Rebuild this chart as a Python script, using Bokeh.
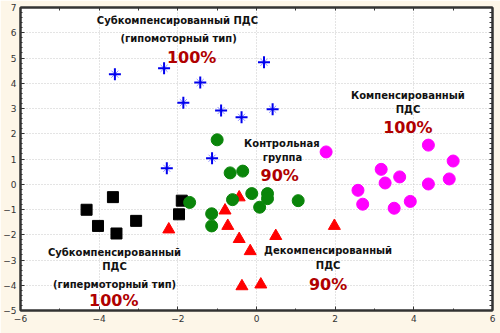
from bokeh.plotting import figure
from bokeh.models import Label, LinearAxis, FixedTicker
from bokeh.embed import file_html
from bokeh.resources import INLINE

# --- data ---
hypo_x = [-3.60, -2.35, -1.43, -1.86, -0.90, -0.38, 0.19, 0.41, -1.13, -2.28]
hypo_y = [4.36, 4.59, 4.03, 3.23, 2.92, 2.65, 4.83, 2.97, 1.03, 0.63]

ctrl_x = [-1.00, -0.67, -0.35, -1.70, -1.14, -1.14, -0.61, -0.12, 0.28, 0.28, 0.08, 1.06]
ctrl_y = [1.76, 0.45, 0.52, -0.72, -1.17, -1.65, -0.61, -0.37, -0.37, -0.57, -0.91, -0.65]

decomp_x = [-2.23, -0.80, -0.73, -0.44, -0.44, -0.16, 0.49, 1.98, -0.37, 0.11]
decomp_y = [-1.79, -1.04, -1.65, -0.52, -2.17, -2.65, -2.05, -1.65, -4.04, -3.97]

hyper_x = [-4.32, -4.03, -3.65, -3.56, -3.06, -1.90, -1.97]
hyper_y = [-1.01, -1.65, -0.51, -1.95, -1.45, -0.65, -1.19]

comp_x = [1.77, 4.37, 5.00, 3.17, 3.64, 3.27, 2.58, 4.37, 4.90, 2.70, 3.50, 3.91]
comp_y = [1.28, 1.55, 0.92, 0.59, 0.29, 0.05, -0.24, 0.01, 0.21, -0.79, -0.95, -0.68]

x_ticks = [-6, -4, -2, 0, 2, 4, 6]
y_ticks = [-5, -4, -3, -2, -1, 0, 1, 2, 3, 4, 5, 6, 7]

BG = "#fdf6e8"
AX = "#333333"


def minors(ticks, n):
    step = ticks[1] - ticks[0]
    return [t + (i + 1) * step / (n + 1) for t in ticks[:-1] for i in range(n)]


p = figure(width=500, height=333, x_range=(-6, 6), y_range=(-5, 7),
           output_backend="svg", toolbar_location=None,
           background_fill_color="white", border_fill_color=BG,
           min_border_left=17, min_border_right=8, min_border_top=7,
           min_border_bottom=23, outline_line_color=AX,
           outline_line_width=2)

for ax, ticks, nminor in ((p.xaxis[0], x_ticks, 1), (p.yaxis[0], y_ticks, 4)):
    ax.ticker = FixedTicker(ticks=ticks, minor_ticks=minors(ticks, nminor))
    ax.axis_line_color = AX
    ax.axis_line_width = 2
    ax.major_tick_in = 4
    ax.major_tick_out = 0
    ax.minor_tick_in = 2
    ax.minor_tick_out = 0
    ax.major_tick_line_color = AX
    ax.minor_tick_line_color = AX
    ax.major_label_text_font = "DejaVu Sans"
    ax.major_label_text_font_size = "9px"
    ax.major_label_text_color = AX
    ax.major_label_standoff = 4

# right and top axes: tick marks only (no labels)
for loc, ticks, nminor in (("right", y_ticks, 4), ("above", x_ticks, 1)):
    a = LinearAxis(ticker=FixedTicker(ticks=[], minor_ticks=sorted(ticks + minors(ticks, nminor))))
    a.axis_line_color = AX
    a.axis_line_width = 2
    a.minor_tick_in = 3
    a.minor_tick_out = 0
    a.minor_tick_line_color = AX
    a.major_label_standoff = 0
    p.add_layout(a, loc)

p.xgrid.ticker = FixedTicker(ticks=x_ticks)
p.ygrid.ticker = FixedTicker(ticks=y_ticks)
p.grid.grid_line_color = "#c8c8c8"
p.grid.grid_line_dash = "1 2"
p.grid.grid_line_width = 1

# markers
p.scatter(hyper_x, hyper_y, marker="square", size=11, fill_color="black", line_color="black")
p.scatter(decomp_x, decomp_y, marker="triangle", size=12, fill_color="#ff0000", line_color="#ff0000")
p.scatter(ctrl_x, ctrl_y, marker="circle", size=12, fill_color="#0a850a", line_color="#0a850a")
p.scatter(comp_x, comp_y, marker="circle", size=12, fill_color="#ff00ff", line_color="#ff00ff")
p.scatter(hypo_x, hypo_y, marker="x", size=10, line_color="#9090ff", line_width=1)
p.scatter(hypo_x, hypo_y, marker="cross", size=12, line_color="#0000ee", line_width=2)


def lab(x, y, text, red=False):
    p.add_layout(Label(x=x, y=y, text=text, text_align="center", text_baseline="middle",
                       text_font="DejaVu Sans", text_font_style="bold",
                       text_font_size="16px" if red else "10px",
                       text_color="#b00000" if red else "#111111"))


lab(-2.01, 6.50, "Субкомпенсированный ПДС")
lab(-1.98, 5.79, "(гипомоторный тип)")
lab(-1.65, 5.03, "100%", True)

lab(3.85, 3.52, "Компенсированный")
lab(3.85, 2.98, "ПДС")
lab(3.85, 2.25, "100%", True)

lab(0.645, 1.63, "Контрольная")
lab(0.66, 1.07, "группа")
lab(0.59, 0.35, "90%", True)

lab(1.82, -2.63, "Декомпенсированный")
lab(1.82, -3.23, "ПДС")
lab(1.82, -3.96, "90%", True)

lab(-3.61, -2.70, "Субкомпенсированный")
lab(-3.61, -3.27, "ПДС")
lab(-3.61, -3.96, "(гипермоторный тип)")
lab(-3.63, -4.62, "100%", True)

open("out.html", "w").write(file_html(p, INLINE))
